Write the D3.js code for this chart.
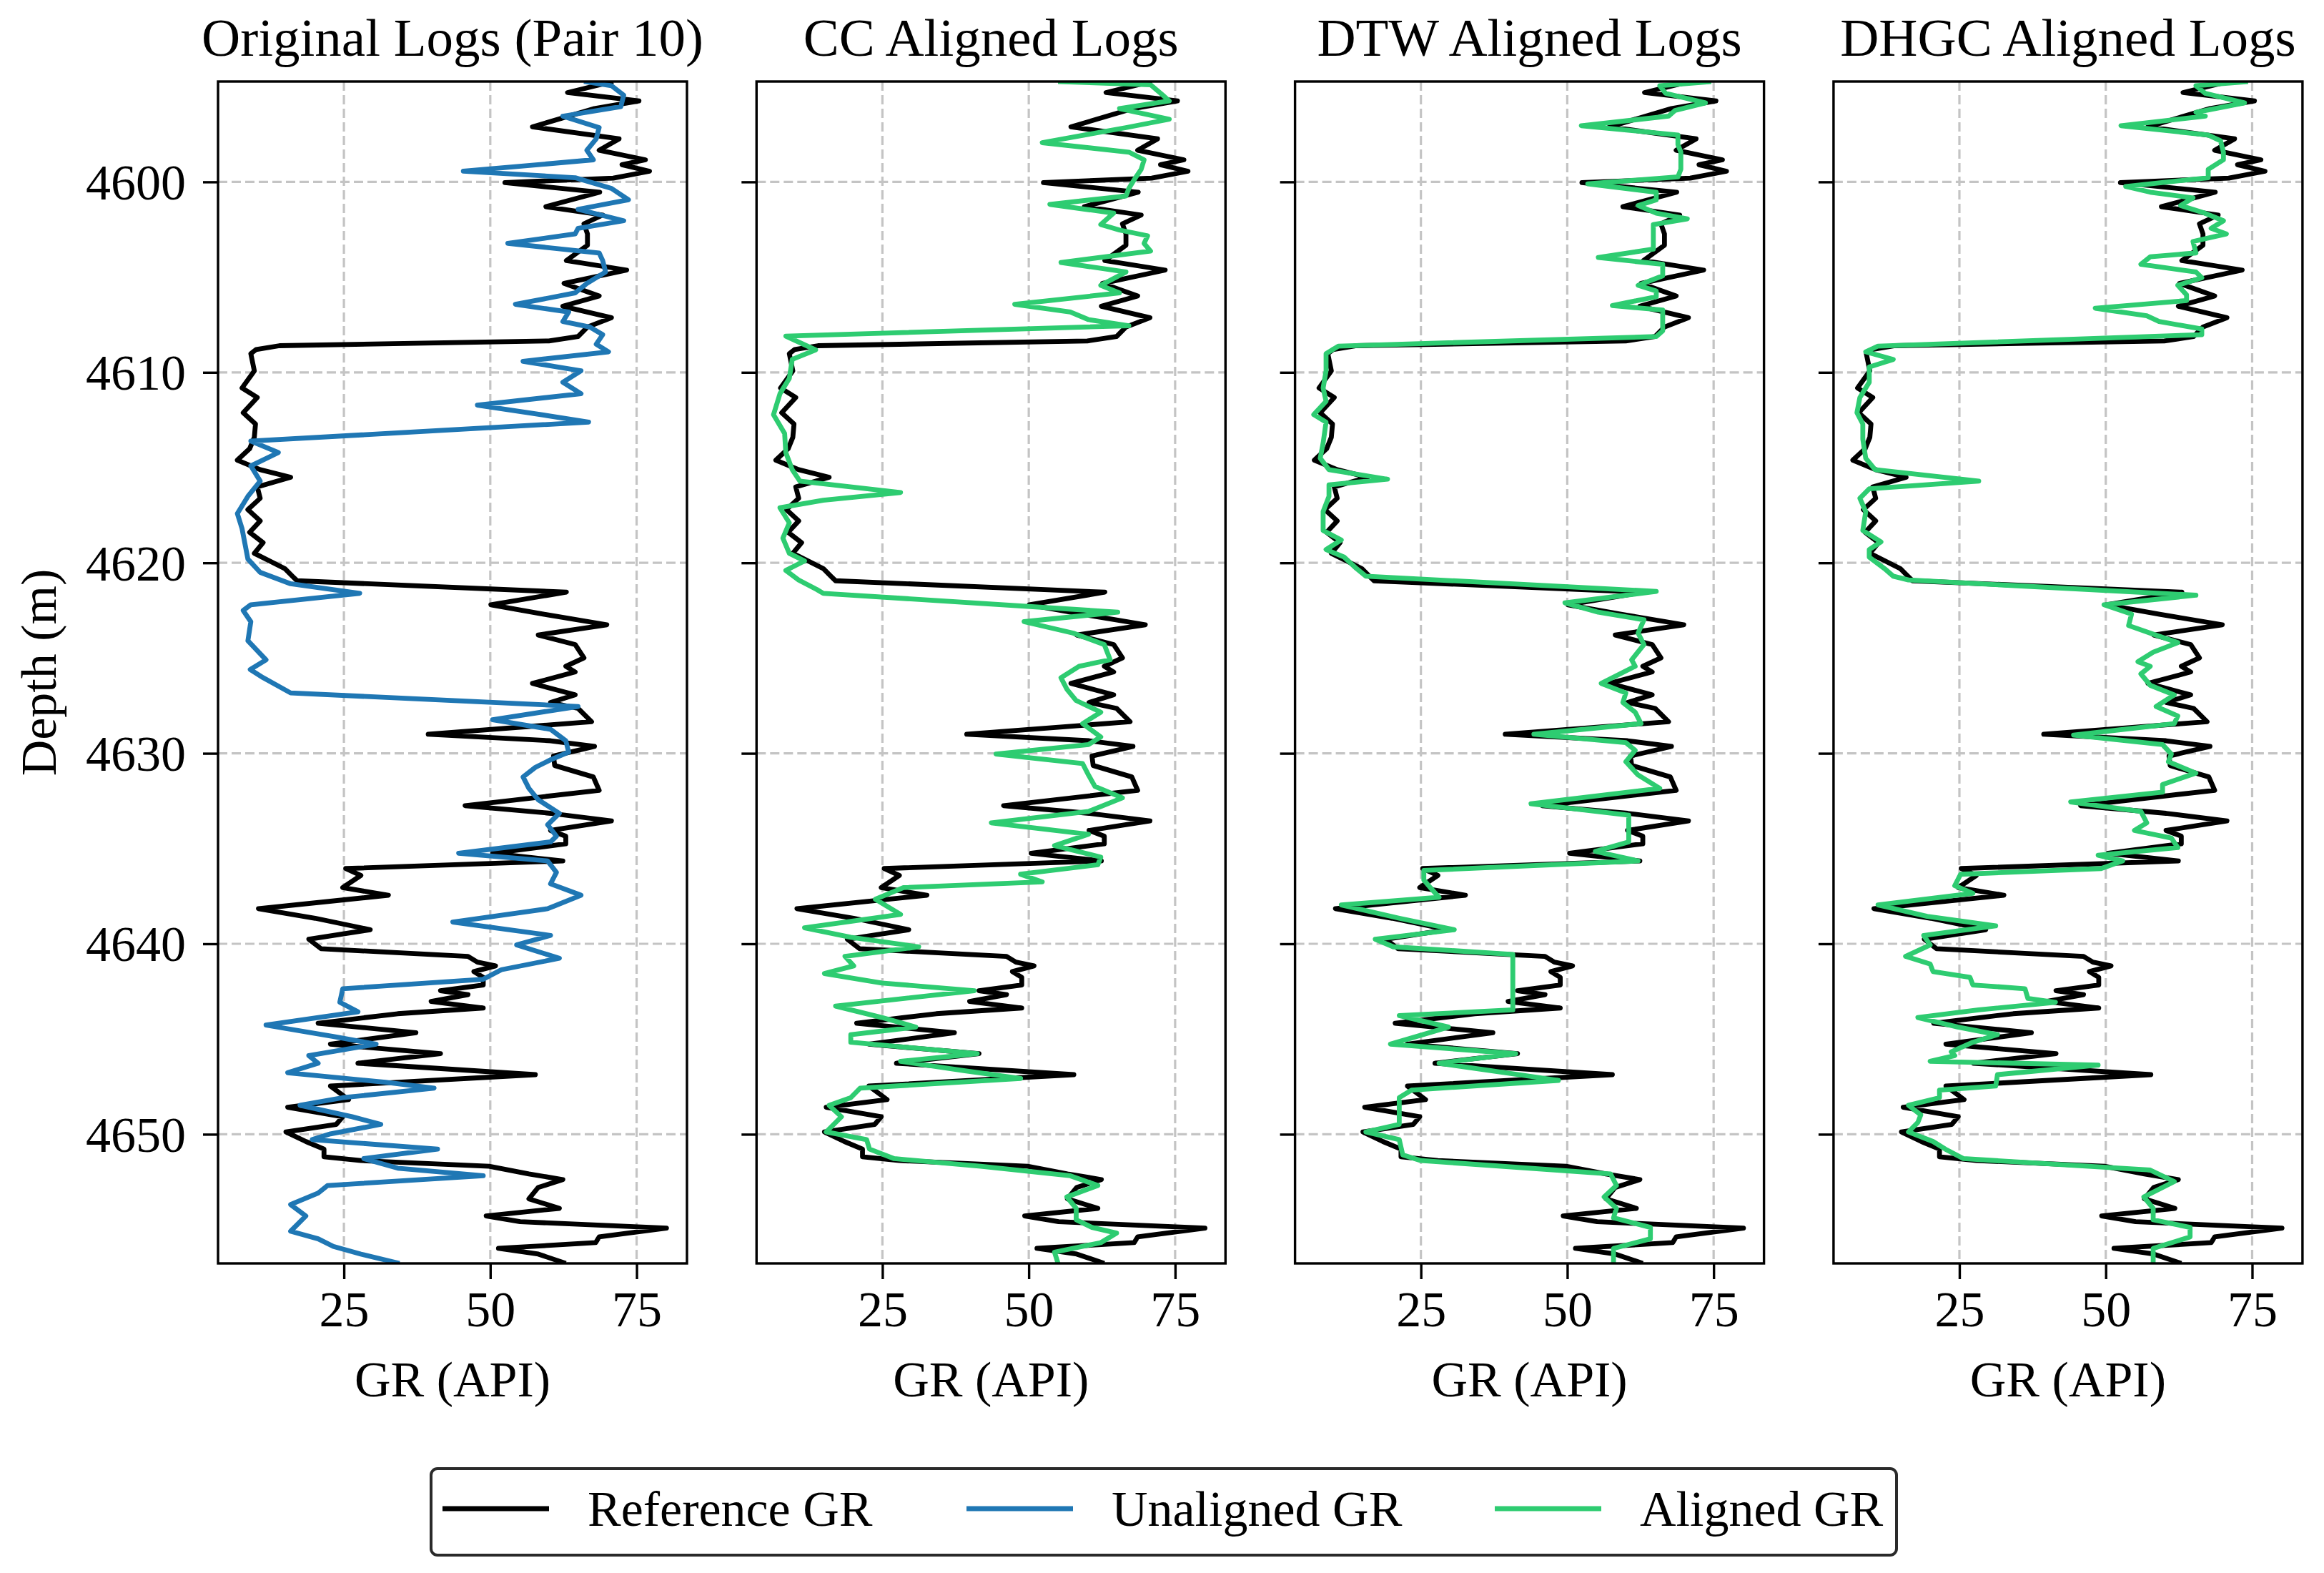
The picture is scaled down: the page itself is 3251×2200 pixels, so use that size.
<!DOCTYPE html>
<html>
<head>
<meta charset="utf-8">
<script src="https://cdn.jsdelivr.net/npm/d3@7"></script>
<style>
  html, body { margin: 0; padding: 0; background: #fff; }
  svg { display: block; }
</style>
</head>
<body>
<div id="chart"></div>
<script>
// ---- data: [depth (m), GR (API)] ----
const refGR = [
  [4594.73,71],[4595.31,63.2],[4595.75,75.4],[4596.15,67.8],[4597.11,57.2],[4597.74,72],
  [4598.34,68.6],[4598.84,76.5],[4599.1,72.5],[4599.44,77.2],[4599.8,71],[4600.04,52.5],
  [4600.54,68.7],[4601.3,59.5],[4601.74,69.2],[4602.2,66],[4602.73,66.6],[4603.33,66.6],
  [4604.13,63],[4604.63,73.3],[4605.33,62.6],[4605.99,68.6],[4606.53,62.4],[4607.13,70.7],
  [4607.62,66.6],[4608.12,65],[4608.35,60],[4608.6,14],[4608.8,10],[4609.02,9.1],
  [4609.92,9.7],[4610.82,7.6],[4611.32,10.2],[4612.12,7.8],[4612.71,9.9],[4613.41,9.7],
  [4614.01,8.9],[4614.61,6.8],[4615.11,10.7],[4615.51,15.9],[4616.01,10.2],[4616.61,10.7],
  [4617.21,8.6],[4617.8,10.7],[4618.4,8.9],[4618.94,11.2],[4619.5,9.7],[4619.9,12.3],
  [4620.3,14.9],[4620.7,16.2],[4620.94,17],[4621.54,63],[4622.2,50.1],[4622.7,59.2],
  [4623.25,69.9],[4623.79,58.2],[4624.29,64.5],[4624.99,66],[4625.43,62.9],[4625.73,64.5],
  [4626.33,57.2],[4626.93,64.5],[4627.33,60.3],[4627.64,65],[4628.34,67.3],[4629.0,39.4],
  [4629.34,60.3],[4629.64,67.8],[4630.14,60.8],[4630.64,61],[4631.24,67.6],[4631.94,68.6],
  [4632.75,45.7],[4633.15,60.3],[4633.55,70.7],[4634.05,60.3],[4634.35,62.9],[4634.75,62.9],
  [4635.25,50.4],[4635.65,62.4],[4636.05,25.3],[4636.41,27.9],[4637.05,24.8],[4637.45,32.6],
  [4638.16,10.4],[4638.66,20.1],[4639.26,29.5],[4639.76,19],[4640.26,21.1],[4640.66,46.2],
  [4640.96,47.8],[4641.16,50.9],[4641.46,47.2],[4641.76,48.8],[4642.16,48.8],[4642.46,41.5],
  [4642.67,46.2],[4643.03,39.9],[4643.37,48.8],[4643.67,34.2],[4644.17,20.6],[4644.67,37.3],
  [4645.27,22.7],[4645.77,41.5],[4646.27,27.4],[4646.87,57.7],[4647.47,22.7],[4648.18,25.8],
  [4648.58,15.4],[4649.08,24.8],[4649.48,23.7],[4649.88,15.1],[4650.38,18.5],[4650.78,21.6],
  [4651.18,21.6],[4651.38,27.9],[4651.68,49.8],[4652.08,56.6],[4652.38,62.4],[4652.79,58.2],
  [4653.39,56.6],[4653.89,61.8],[4654.29,49.3],[4654.59,55.1],[4654.93,80.1],[4655.39,68.6],
  [4655.69,68],[4655.99,51.4],[4656.29,58.2],[4656.78,62.9]
];

const unalignedGR = [
  [4594.73,66],[4594.95,70.7],[4595.45,72.8],[4596.05,72.3],[4596.55,62.4],[4597.15,68.6],
  [4597.74,68.1],[4598.34,66.5],[4598.84,67.6],[4599.44,45.4],[4599.78,64.5],[4600.34,70.7],
  [4600.94,73.6],[4601.44,65],[4602.04,72.8],[4602.44,65],[4602.73,64.5],[4603.23,53],
  [4603.73,68.6],[4604.13,69.2],[4604.73,69.7],[4605.33,66.5],[4605.83,64.5],[4606.43,54.3],
  [4606.83,63.4],[4607.33,62.4],[4607.62,67],[4608.02,69.2],[4608.52,68.1],[4608.92,70.2],
  [4609.42,55.6],[4609.92,65.5],[4610.52,62.4],[4611.12,65.5],[4611.72,47.8],[4612.12,56.6],
  [4612.61,66.8],[4613.61,9.1],[4614.21,13.8],[4614.91,9.1],[4615.71,10.7],[4616.51,8.6],
  [4617.41,6.8],[4618.2,7.6],[4619.0,8.1],[4619.8,8.6],[4620.5,10.7],[4621.1,15.9],
  [4621.6,27.7],[4622.2,9.1],[4622.5,7.8],[4623.09,9.1],[4624.09,8.6],[4625.09,11.7],
  [4625.6,9],[4626.03,11.2],[4626.83,15.9],[4627.54,65],[4628.24,50.4],[4628.74,60.3],
  [4629.34,62.9],[4629.94,63.4],[4630.34,60.3],[4630.74,57.7],[4631.24,55.6],[4631.84,56.6],
  [4632.44,58.2],[4633.15,61.8],[4633.75,59.8],[4634.35,61.3],[4634.65,60.3],[4635.25,44.6],
  [4635.65,59.8],[4636.25,61.3],[4636.85,60.3],[4637.45,65.5],[4638.16,59.8],[4638.86,43.6],
  [4639.56,60.3],[4640.06,54.5],[4640.76,61.8],[4641.36,51.9],[4641.86,48.8],[4642.36,24.8],
  [4643.07,24.3],[4643.57,27.4],[4644.27,11.7],[4644.87,23.2],[4645.27,30.5],[4645.87,19],
  [4646.27,20.6],[4646.77,15.4],[4647.27,32.1],[4647.58,40.4],[4648.08,24.8],[4648.48,17.5],
  [4649.08,26.4],[4649.48,31.3],[4649.98,22.7],[4650.28,19.6],[4650.78,41],[4651.28,28.4],
  [4651.78,34.2],[4652.18,48.8],[4652.69,22.2],[4653.09,20.6],[4653.69,15.9],[4654.29,18.5],
  [4655.09,15.9],[4655.49,20.6],[4655.89,23.2],[4656.29,27.9],[4656.78,34.5]
];

const ccGR = [
  [4594.73,55],[4594.9,70.8],[4595.45,72.9],[4595.75,74],[4596.15,65.5],[4596.71,74],
  [4597.15,66.6],[4597.94,52.3],[4598.44,67.1],[4598.84,69.7],[4599.34,69.2],[4599.84,68.1],
  [4600.34,67.1],[4600.74,66.6],[4601.18,53.6],[4601.64,64.5],[4602.24,62.3],[4602.53,65.5],
  [4602.83,70.3],[4603.23,69.7],[4603.63,70.8],[4604.23,55.5],[4604.73,66.6],[4605.43,62.3],
  [4605.83,65.5],[4606.43,47.6],[4606.83,57.1],[4607.23,60.2],[4607.55,67.1],[4608.1,8.5],
  [4608.82,13.6],[4609.32,9.6],[4610.32,9.1],[4611.12,7.5],[4612.22,6.4],[4613.21,8.3],
  [4614.21,8.5],[4615.11,9.6],[4615.71,10.9],[4616.31,28.1],[4616.71,14.9],[4617.11,7.5],
  [4617.9,9.1],[4618.7,8],[4619.5,9.1],[4619.9,11.7],[4620.4,8.5],[4620.9,10.7],
  [4621.4,13.8],[4621.6,14.9],[4622.59,65.2],[4623.09,49.2],[4623.69,57.6],[4624.29,62.9],
  [4625.09,63.9],[4625.43,58.6],[4626.03,55.5],[4626.63,56.5],[4627.23,58.1],[4627.84,62.3],
  [4628.44,59.2],[4629.14,62.3],[4629.54,60.2],[4630.04,44.4],[4630.54,59.2],[4631.14,60.2],
  [4631.74,61.3],[4632.34,66],[4633.05,60.2],[4633.65,43.6],[4634.25,60.2],[4634.85,54.4],
  [4635.45,62.3],[4635.85,61.8],[4636.35,48.6],[4636.75,52.3],[4637.05,28.6],[4637.66,23.8],
  [4638.46,28.1],[4639.16,11.7],[4639.66,19.6],[4640.16,31.2],[4640.66,18.6],[4641.16,20.1],
  [4641.56,15.1],[4642.06,24.9],[4642.46,40.7],[4643.27,17],[4643.87,24.9],[4644.37,30.7],
  [4644.77,19.6],[4645.17,19.6],[4645.77,41.2],[4646.17,28.1],[4646.67,39.1],[4647.07,48.6],
  [4647.58,21.2],[4648.08,19.6],[4648.48,15.9],[4649.08,18],[4649.88,15.4],[4650.28,22.3],
  [4650.78,22.8],[4651.28,27],[4651.68,41.8],[4652.18,57.1],[4652.69,61.8],[4653.29,56.5],
  [4653.89,58.1],[4654.49,58.1],[4654.89,60.8],[4655.19,65],[4655.69,62.3],[4656.19,54.4],
  [4656.78,55]
];

const dtwGR = [
  [4594.73,74.6],[4594.95,65.8],[4595.35,66.8],[4595.85,73.6],[4596.25,68.4],[4596.55,67.3],
  [4597.05,52.4],[4597.54,68.9],[4598.04,68.9],[4598.44,69.4],[4599.34,69.4],[4599.74,68.9],
  [4600.1,53.5],[4600.54,65.2],[4600.94,65.2],[4601.24,62.1],[4601.64,65.2],[4601.94,70.5],
  [4602.24,64.7],[4603.53,64.7],[4603.97,55.3],[4604.33,66.3],[4604.93,66.3],[4605.43,62.1],
  [4605.73,65.2],[4606.03,65.2],[4606.49,57.7],[4606.73,66.3],[4607.82,66.3],[4608.12,65.2],
  [4608.62,10.9],[4609.02,8.8],[4609.92,8.8],[4610.82,8.3],[4611.52,8.8],[4612.22,6.7],
  [4612.61,8.8],[4613.71,8.3],[4614.51,7.8],[4615.11,9.3],[4615.61,19.3],[4615.91,9.3],
  [4616.51,9.3],[4617.31,8.3],[4618.3,8.3],[4618.8,11.4],[4619.3,8.8],[4619.7,11.9],
  [4620.3,14],[4620.7,15.6],[4621.5,65.2],[4622.1,49.6],[4622.59,55.3],[4622.99,63.1],
  [4623.69,62.1],[4624.29,63.1],[4625.09,61],[4625.43,61.6],[4626.33,55.8],[4626.83,60],
  [4627.33,59.5],[4627.84,61.6],[4628.44,62.6],[4629.0,44.3],[4629.44,60],[4629.84,61.6],
  [4630.44,60],[4631.14,62.1],[4631.84,65.8],[4632.65,43.8],[4633.25,60.5],[4634.65,60.5],
  [4635.15,54.8],[4635.65,62.1],[4636.15,25.5],[4636.65,25.5],[4637.05,26.6],[4637.56,28.1],
  [4637.96,11.4],[4638.66,21.3],[4639.26,30.7],[4639.76,17.2],[4640.16,20.3],[4640.56,40.7],
  [4643.47,40.7],[4643.77,21.3],[4644.37,29.7],[4645.27,19.8],[4645.77,41.2],[4646.27,28.1],
  [4647.17,48.5],[4647.68,23.4],[4648.08,21.3],[4649.48,21.3],[4649.88,15.6],[4650.28,21.3],
  [4651.08,21.9],[4651.38,25],[4652.08,57.4],[4652.69,58.4],[4653.29,56.3],[4653.89,58.4],
  [4654.39,57.9],[4654.89,64.2],[4655.49,64.2],[4655.99,57.9],[4656.78,57.9]
];

const dhgcGR = [
  [4594.73,74.3],[4594.95,65.4],[4595.35,67],[4595.85,73.7],[4596.35,65.4],[4596.55,67],
  [4597.05,52.6],[4597.54,67.5],[4597.84,69.6],[4598.44,70.1],[4598.84,70.1],[4599.34,67.5],
  [4599.78,67.5],[4600.24,53.4],[4600.54,57.6],[4600.84,64.9],[4601.24,62.8],[4601.64,66.9],
  [4602.04,70.1],[4602.44,68],[4602.73,70.6],[4603.13,64.9],[4603.73,65.4],[4603.93,57.6],
  [4604.33,56],[4604.73,65.4],[4605.03,66.4],[4605.43,62.3],[4605.93,63.8],[4606.23,63.8],
  [4606.63,48.2],[4607.03,57],[4607.33,59.1],[4607.72,66.4],[4608.02,66.4],[4608.62,11.1],
  [4608.92,9],[4609.32,13.7],[4609.72,9.6],[4610.52,9.6],[4611.32,8],[4612.12,7.5],
  [4612.71,8.5],[4613.51,8.5],[4614.51,9],[4615.11,10.6],[4615.71,28.3],[4616.11,9.6],
  [4616.61,8],[4617.31,9],[4618.3,8.5],[4618.9,11.6],[4619.3,9.6],[4619.7,9.6],
  [4620.3,12.2],[4620.7,13.7],[4620.9,16.3],[4621.7,65.4],[4622.2,49.7],[4622.69,54.4],
  [4623.29,53.9],[4623.69,57.6],[4624.19,62.3],[4624.69,58.1],[4625.19,55.5],[4625.43,57.6],
  [4625.83,56],[4626.43,57.6],[4626.93,61.7],[4627.54,58.6],[4628.04,62.3],[4628.44,61.7],
  [4629.04,44.5],[4629.54,59.7],[4630.04,61.2],[4630.44,60.7],[4631.04,65.4],[4631.64,59.7],
  [4632.04,59.7],[4632.55,44],[4633.05,56],[4633.65,57],[4634.05,54.9],[4634.45,61.2],
  [4634.95,62.3],[4635.35,48.7],[4635.65,52.9],[4636.05,49.2],[4636.35,25.2],[4636.95,24.2],
  [4637.35,27.3],[4637.96,11.1],[4638.56,19.5],[4639.06,31.2],[4639.56,18.9],[4640.06,20],
  [4640.66,15.8],[4641.06,20],[4641.46,20.5],[4641.76,26.8],[4642.16,27.3],[4642.36,36.2],
  [4642.87,36.7],[4643.07,41.4],[4643.47,28.3],[4643.87,17.9],[4644.37,24.7],[4644.77,31.5],
  [4645.17,27.3],[4645.67,23.6],[4645.87,24.2],[4646.17,20],[4646.37,48.7],[4646.87,31.5],
  [4647.47,31.2],[4647.68,21.6],[4648.08,21.6],[4648.48,16.3],[4648.98,18.4],[4649.38,17.9],
  [4649.88,16.3],[4650.38,20.5],[4650.78,22.6],[4651.28,25.7],[4651.88,57.6],[4652.48,61.7],
  [4653.29,56.5],[4653.89,58.1],[4654.49,58.1],[4654.89,64.4],[4655.39,64.4],[4655.99,58.1],
  [4656.78,58.1]
];

const panelTitles = ['Original Logs (Pair 10)', 'CC Aligned Logs', 'DTW Aligned Logs', 'DHGC Aligned Logs'];
const panelSeries = [unalignedGR, ccGR, dtwGR, dhgcGR];
const depthTicks  = [4600, 4610, 4620, 4630, 4640, 4650];
const grTicks     = [25, 50, 75];
const legendItems = [
  { label: 'Reference GR', color: '#000000' },
  { label: 'Unaligned GR', color: '#1f77b4' },
  { label: 'Aligned GR',   color: '#2ecc71' }
];

// ---- layout ----
const W = 3251, H = 2200;
const FONT = '"Liberation Serif", "Times New Roman", Times, serif';
const panelLeft = 305, panelPitch = 753.3, panelW = 656;
const panelTop = 114, panelH = 1653;
const LW = 6.8;

const svg = d3.select('#chart').append('svg')
  .attr('width', W).attr('height', H)
  .attr('viewBox', `0 0 ${W} ${H}`);

const x = d3.scaleLinear().domain([3.5, 83.6]).range([0, panelW]);
const y = d3.scaleLinear().domain([4594.73, 4656.78]).range([0, panelH]);

const line = d3.line()
  .x(d => x(d[1]))
  .y(d => y(d[0]));

svg.append('defs').append('clipPath').attr('id', 'clip')
  .append('rect').attr('width', panelW).attr('height', panelH);

panelSeries.forEach((series, i) => {
  const g = svg.append('g')
    .attr('transform', `translate(${panelLeft + i * panelPitch},${panelTop})`);

  // grid
  const grid = g.append('g').attr('class', 'grid')
    .attr('stroke', '#c4c4c4').attr('stroke-width', 3.2)
    .attr('stroke-dasharray', '13,6');
  grid.selectAll('line.v').data(grTicks).join('line')
    .attr('class', 'v')
    .attr('x1', d => x(d)).attr('x2', d => x(d))
    .attr('y1', 0).attr('y2', panelH);
  grid.selectAll('line.h').data(depthTicks).join('line')
    .attr('class', 'h')
    .attr('x1', 0).attr('x2', panelW)
    .attr('y1', d => y(d)).attr('y2', d => y(d));

  // curves: reference underneath, compared log on top
  const curves = g.append('g').attr('clip-path', 'url(#clip)');
  curves.append('path').datum(refGR)
    .attr('d', line).attr('fill', 'none')
    .attr('stroke', '#000').attr('stroke-width', LW)
    .attr('stroke-linejoin', 'round');
  curves.append('path').datum(series)
    .attr('d', line).attr('fill', 'none')
    .attr('stroke', i === 0 ? legendItems[1].color : legendItems[2].color)
    .attr('stroke-width', LW)
    .attr('stroke-linejoin', 'round');

  // axes
  const yAxis = d3.axisLeft(y).tickValues(depthTicks).tickSize(21).tickPadding(24)
    .tickFormat(i === 0 ? d3.format('d') : () => '');
  const ya = g.append('g').call(yAxis);
  const xAxis = d3.axisBottom(x).tickValues(grTicks).tickSize(22).tickPadding(16)
    .tickFormat(d3.format('d'));
  const xa = g.append('g').attr('transform', `translate(0,${panelH})`).call(xAxis);
  [ya, xa].forEach(a => {
    a.select('.domain').remove();
    a.selectAll('.tick line').attr('stroke', '#000').attr('stroke-width', 3.4);
    a.selectAll('.tick text')
      .attr('font-family', FONT).attr('font-size', 70).attr('fill', '#000');
  });
  ya.selectAll('.tick text').attr('dy', '0.34em');
  xa.selectAll('.tick text').attr('dy', '0.71em');

  // frame
  g.append('rect')
    .attr('width', panelW).attr('height', panelH)
    .attr('fill', 'none').attr('stroke', '#000').attr('stroke-width', 3.4);

  // title
  g.append('text')
    .attr('x', panelW / 2).attr('y', 78 - panelTop)
    .attr('text-anchor', 'middle')
    .attr('font-family', FONT).attr('font-size', 75)
    .text(panelTitles[i]);

  // x label
  g.append('text')
    .attr('x', panelW / 2).attr('y', 1953 - panelTop)
    .attr('text-anchor', 'middle')
    .attr('font-family', FONT).attr('font-size', 70)
    .text('GR (API)');
});

// y label
svg.append('text')
  .attr('transform', `translate(78,${panelTop + panelH / 2}) rotate(-90)`)
  .attr('text-anchor', 'middle')
  .attr('font-family', FONT).attr('font-size', 70)
  .text('Depth (m)');

// legend
const lg = svg.append('g').attr('transform', 'translate(603,2054)');
lg.append('rect')
  .attr('width', 2050).attr('height', 121).attr('rx', 9)
  .attr('fill', '#fff').attr('stroke', '#2a2a2a').attr('stroke-width', 4);
const itemX = [16, 749, 1488];
legendItems.forEach((it, k) => {
  lg.append('line')
    .attr('x1', itemX[k]).attr('x2', itemX[k] + 149)
    .attr('y1', 56).attr('y2', 56)
    .attr('stroke', it.color).attr('stroke-width', LW);
  lg.append('text')
    .attr('x', itemX[k] + 203).attr('y', 56)
    .attr('dy', '0.34em')
    .attr('font-family', FONT).attr('font-size', 70)
    .text(it.label);
});
</script>
</body>
</html>
